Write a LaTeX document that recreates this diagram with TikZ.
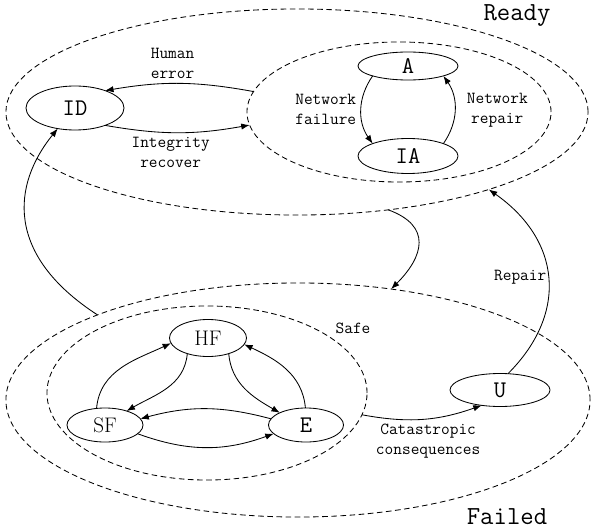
\documentclass[tikz,border=0pt]{standalone}
\usetikzlibrary{shapes.geometric, arrows.meta}
\tikzstyle{state} = [ellipse, draw=black, inner sep=0pt, outer sep=0pt, text centered, font=\fontsize{17}{19}\selectfont\ttfamily]
\tikzstyle{region} = [ellipse, draw=black, dash pattern=on 4pt off 2.5pt, inner sep=0pt, outer sep=0pt]
\tikzstyle{trans} = [->, >={Latex[length=6pt, width=4.5pt]}]
\tikzstyle{lbl} = [align=center, font=\fontsize{12}{14.2}\selectfont\ttfamily]
\tikzstyle{title} = [font=\fontsize{18.5}{20}\selectfont\ttfamily]

\begin{document}
\begin{tikzpicture}[x=0.025cm, y=-0.025cm, line width=0.6pt]
\useasboundingbox (0,0) rectangle (591,531);

% the two groups of states
\node (ready) [region, minimum width=14.55cm, minimum height=5.15cm] at (297,112) {};
\node (readyin) [region, minimum width=7.6cm, minimum height=3.5cm] at (399,112) {};
\node (failed) [region, minimum width=14.6cm, minimum height=5.85cm] at (298,400) {};
\node (safe) [region, minimum width=8cm, minimum height=4.35cm] at (207,393) {};

\node (readylbl) [title] at (517,16) {Ready};
\node (failedlbl) [title] at (507,517) {Failed};
\node (safelbl) [lbl] at (353,328) {Safe};

% states
\node (id) [state, minimum width=2.45cm, minimum height=1.1cm] at (75,108) {ID};
\node (a) [state, minimum width=2.5cm, minimum height=0.7cm] at (408,66) {A};
\node (ia) [state, minimum width=2.5cm, minimum height=0.875cm] at (408,156) {IA};
\node (hf) [state, minimum width=1.925cm, minimum height=0.925cm, font=\fontsize{15}{17}\selectfont\rmfamily] at (208,338) {HF};
\node (sf) [state, minimum width=1.9cm, minimum height=0.85cm, font=\fontsize{15}{17}\selectfont\rmfamily] at (105,425) {SF};
\node (e) [state, minimum width=1.875cm, minimum height=0.85cm] at (306,425) {E};
\node (u) [state, minimum width=2.5cm, minimum height=0.825cm] at (500,390) {U};

% transitions inside Ready
\draw [trans] (readyin.172) to[bend right=10] node[lbl, above, pos=0.55] {Human\\error} (id.30);
\draw [trans] (id.-30) to[bend right=10] node[lbl, below, pos=0.45] {Integrity\\recover} (readyin.185);
\draw [trans] (a.south west) to[bend right=35] node[lbl, left] {Network\\failure} (ia.north west);
\draw [trans] (ia.north east) to[bend right=35] node[lbl, right, xshift=5pt] {Network\\repair} (a.south east);

% transitions inside Safe
\draw [trans] (sf.117) to[out=85, in=205] (hf.188);
\draw [trans] (hf.-143) to[out=-95, in=30] (sf.33);
\draw [trans] (hf.-37) to[out=-85, in=150] (e.155);
\draw [trans] (e.92) to[out=95, in=-25] (hf.-10);
\draw [trans] (e.170) to[bend right=15] (sf.10);
\draw [trans] (sf.-15) to[bend right=20] (e.-165);

% between the groups
\draw [trans] (safe.-8) to[bend right=15] node[lbl, below, pos=0.55] {Catastropic\\consequences} (u.-140);
\draw [trans] (u.64) to[out=45, in=-35, looseness=1.2] node[lbl, left, pos=0.5, inner sep=1pt] {Repair} (ready.-22);
\draw [trans] (ready.-47) to[out=-20, in=45, looseness=1.5] (failed.50);
\draw [trans] (failed.157) .. controls (5,255) and (12,185) .. (id.-130);

\end{tikzpicture}
\end{document}
